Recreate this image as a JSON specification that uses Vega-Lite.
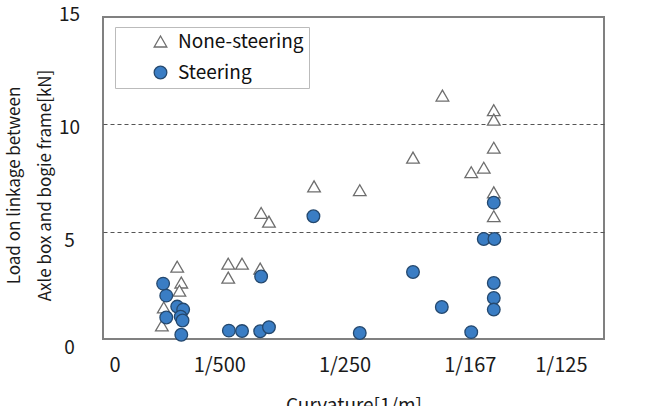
{
  "$schema": "https://vega.github.io/schema/vega-lite/v6.json",
  "width": 501,
  "height": 322,
  "autosize": {"type": "none"},
  "padding": {"left": 103, "top": 17, "right": 41, "bottom": 67},
  "background": "white",
  "config": {
    "font": "Noto Sans CJK JP",
    "view": {"stroke": "#808080", "strokeWidth": 2},
    "axis": {
      "labelFont": "Noto Sans CJK JP",
      "titleFont": "Noto Sans CJK JP",
      "labelColor": "#1a1a1a",
      "titleColor": "#1a1a1a",
      "titleFontWeight": "normal",
      "domain": false,
      "ticks": false
    }
  },
  "data": {
    "values": [
      {"curvature": 0.001185, "load": 3.37, "type": "None-steering"},
      {"curvature": 0.00125, "load": 2.63, "type": "None-steering"},
      {"curvature": 0.00122, "load": 2.25, "type": "None-steering"},
      {"curvature": 0.00097, "load": 1.47, "type": "None-steering"},
      {"curvature": 0.00094, "load": 0.63, "type": "None-steering"},
      {"curvature": 0.002, "load": 3.51, "type": "None-steering"},
      {"curvature": 0.00222, "load": 3.51, "type": "None-steering"},
      {"curvature": 0.002, "load": 2.86, "type": "None-steering"},
      {"curvature": 0.00251, "load": 3.28, "type": "None-steering"},
      {"curvature": 0.002525, "load": 5.87, "type": "None-steering"},
      {"curvature": 0.00265, "load": 5.47, "type": "None-steering"},
      {"curvature": 0.00337, "load": 7.11, "type": "None-steering"},
      {"curvature": 0.0041, "load": 6.93, "type": "None-steering"},
      {"curvature": 0.00495, "load": 8.45, "type": "None-steering"},
      {"curvature": 0.00542, "load": 11.34, "type": "None-steering"},
      {"curvature": 0.00588, "load": 7.77, "type": "None-steering"},
      {"curvature": 0.00608, "load": 7.98, "type": "None-steering"},
      {"curvature": 0.00624, "load": 10.66, "type": "None-steering"},
      {"curvature": 0.00624, "load": 10.22, "type": "None-steering"},
      {"curvature": 0.00624, "load": 8.91, "type": "None-steering"},
      {"curvature": 0.00624, "load": 6.83, "type": "None-steering"},
      {"curvature": 0.00624, "load": 5.72, "type": "None-steering"},
      {"curvature": 0.00096, "load": 2.58, "type": "Steering"},
      {"curvature": 0.00101, "load": 2.02, "type": "Steering"},
      {"curvature": 0.001185, "load": 1.51, "type": "Steering"},
      {"curvature": 0.00128, "load": 1.37, "type": "Steering"},
      {"curvature": 0.00124, "load": 1.04, "type": "Steering"},
      {"curvature": 0.00101, "load": 1.0, "type": "Steering"},
      {"curvature": 0.00127, "load": 0.86, "type": "Steering"},
      {"curvature": 0.00125, "load": 0.2, "type": "Steering"},
      {"curvature": 0.002525, "load": 2.91, "type": "Steering"},
      {"curvature": 0.00201, "load": 0.39, "type": "Steering"},
      {"curvature": 0.00222, "load": 0.37, "type": "Steering"},
      {"curvature": 0.00251, "load": 0.36, "type": "Steering"},
      {"curvature": 0.00265, "load": 0.55, "type": "Steering"},
      {"curvature": 0.00336, "load": 5.72, "type": "Steering"},
      {"curvature": 0.0041, "load": 0.28, "type": "Steering"},
      {"curvature": 0.00495, "load": 3.12, "type": "Steering"},
      {"curvature": 0.00541, "load": 1.49, "type": "Steering"},
      {"curvature": 0.00588, "load": 0.32, "type": "Steering"},
      {"curvature": 0.00624, "load": 6.35, "type": "Steering"},
      {"curvature": 0.00608, "load": 4.66, "type": "Steering"},
      {"curvature": 0.00625, "load": 4.66, "type": "Steering"},
      {"curvature": 0.00624, "load": 2.61, "type": "Steering"},
      {"curvature": 0.00624, "load": 1.91, "type": "Steering"},
      {"curvature": 0.00624, "load": 1.37, "type": "Steering"}
    ]
  },
  "mark": {"type": "point", "filled": true, "size": 160, "strokeWidth": 1.3, "opacity": 1},
  "encoding": {
    "x": {
      "field": "curvature",
      "type": "quantitative",
      "scale": {"domain": [0, 0.008], "nice": false, "zero": true},
      "axis": {
        "values": [0, 0.002, 0.004, 0.006, 0.008],
        "labelExpr": "datum.value == 0 ? '0' : '1/' + round(1 / datum.value)",
        "labelFontSize": 20,
        "labelBaseline": "top",
        "labelPadding": 16,
        "labelOffset": {"condition": [{"test": "datum.value == 0", "value": 6}, {"test": "datum.value >= 0.0079", "value": -17}], "value": -9},
        "grid": false,
        "title": "Curvature[1/m]",
        "titleFontSize": 19,
        "titlePadding": 21
      }
    },
    "y": {
      "field": "load",
      "type": "quantitative",
      "scale": {"domain": [0, 15], "nice": false},
      "axis": {
        "values": [0, 5, 10, 15],
        "labelFontSize": 19,
        "labelAlign": "center",
        "labelBaseline": "middle",
        "labelPadding": 34,
        "labelOffset": {"condition": [{"test": "datum.value == 15", "value": -3}, {"test": "datum.value == 10", "value": 3}], "value": 8.5},
        "grid": true,
        "gridDash": [4, 3],
        "gridColor": "#555555",
        "gridWidth": 1,
        "gridOpacity": {"condition": {"test": "datum.value == 0 || datum.value == 15", "value": 0}, "value": 1},
        "title": ["Load on linkage between", "Axle box and bogie frame[kN]"],
        "titleFontSize": 17,
        "titleLineHeight": 31,
        "titlePadding": 4,
        "titleY": 168
      }
    },
    "shape": {
      "field": "type",
      "type": "nominal",
      "scale": {"domain": ["None-steering", "Steering"], "range": ["triangle-up", "circle"]},
      "legend": {
        "title": null,
        "orient": "none",
        "legendX": 12,
        "legendY": 10,
        "direction": "vertical",
        "strokeColor": "#bbbbbb",
        "fillColor": "white",
        "padding": 5,
        "symbolOffset": 31,
        "symbolSize": 160,
        "symbolStrokeWidth": 1.3,
        "labelFont": "Noto Sans CJK JP",
        "labelFontSize": 19,
        "labelColor": "#111111",
        "labelOffset": 8,
        "rowPadding": 11
      }
    },
    "fill": {
      "field": "type",
      "type": "nominal",
      "scale": {"domain": ["None-steering", "Steering"], "range": ["#ffffff", "#3A7DC4"]},
      "legend": null
    },
    "stroke": {
      "field": "type",
      "type": "nominal",
      "scale": {"domain": ["None-steering", "Steering"], "range": ["#6e6e6e", "#24486e"]},
      "legend": null
    }
  }
}
